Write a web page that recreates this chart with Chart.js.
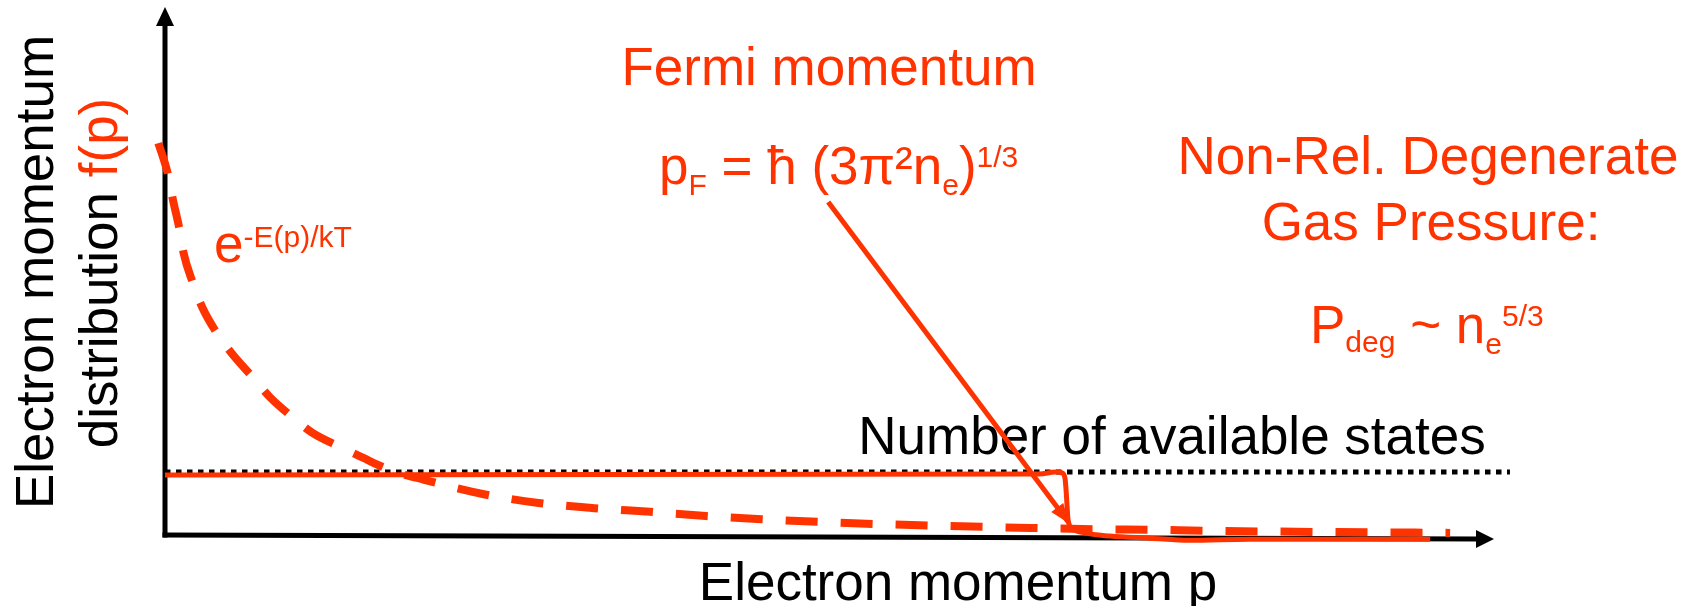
<!DOCTYPE html>
<html><head><meta charset="utf-8">
<script src="https://cdn.jsdelivr.net/npm/chart.js@4/dist/chart.umd.min.js"></script>
<style>html,body{margin:0;padding:0;background:#fff;overflow:hidden}canvas{display:block}</style>
</head><body>
<canvas id="c" width="1697" height="606"></canvas>
<script>
const RED = '#ff3300';
const FONT = '"Liberation Sans", Arial, sans-serif';

// Boltzmann-like distribution e^{-E(p)/kT}  (momentum p, distribution f)
const boltzP = [-0.5, 0.2, 0.6, 1.1, 1.4, 2.1, 2.8, 3.9, 5.0, 6.6, 7.9, 9.6, 11.1, 13.2, 14.8, 16.9, 19.5, 23.9, 28.1, 32.3, 36.5, 40.7, 44.9, 49.1, 53.4, 65.8, 70.1, 74.3, 78.4, 96.7];
const boltzF = [74.5, 68.8, 63.7, 58.0, 53.6, 47.9, 43.3, 38.4, 34.6, 30.0, 26.2, 22.4, 19.4, 16.7, 14.8, 12.4, 10.5, 7.8, 6.1, 5.1, 4.4, 3.6, 3.0, 2.5, 2.1, 1.3, 1.1, 1.0, 0.8, 0.4];

// Degenerate (Fermi) distribution: filled up to p_F, then drops
const degP = [0, 65.8, 67.0, 67.5, 67.72, 67.8, 67.87, 67.95, 68.25, 69.2, 71.1, 74.1, 77.1, 81.6, 95.2];
const degF = [11.4, 11.6, 12.0, 11.8, 10.8, 8.6, 5.7, 2.9, 1.3, 0.4, -0.2, -0.6, -1.0, -0.8, -0.8];

// Number of available states (dotted level)
const statesP = [0, 101.2];
const statesF = [12.0, 12.0];

// Pointer from the p_F label to the Fermi edge
const arrowP = [49.9, 67.95];
const arrowF = [63.3, 2.5];

const toXY = (xs, ys) => xs.map((x, i) => ({x: x, y: ys[i]}));

function rich(ctx, segs, x, y, align) {
  let total = 0;
  segs.forEach(s => { ctx.font = s.s + 'px ' + FONT; s.w = ctx.measureText(s.t).width; total += s.w; });
  let cx = align === 'center' ? x - total / 2 : x;
  ctx.textAlign = 'left';
  ctx.textBaseline = 'alphabetic';
  segs.forEach(s => {
    ctx.font = s.s + 'px ' + FONT;
    ctx.fillStyle = s.c || RED;
    ctx.fillText(s.t, cx, y + (s.dy || 0));
    cx += s.w;
  });
}

const decor = {
  id: 'decor',
  beforeDatasetsDraw(chart) {
    const ctx = chart.ctx;
    const xs = chart.scales.x, ys = chart.scales.y;
    const x0 = xs.getPixelForValue(0), y0 = ys.getPixelForValue(0);
    const xEnd = xs.getPixelForValue(100), yTop = ys.getPixelForValue(100);
    ctx.save();
    // axes
    ctx.strokeStyle = '#000'; ctx.fillStyle = '#000'; ctx.lineWidth = 5; ctx.lineCap = 'butt';
    ctx.beginPath(); ctx.moveTo(x0, y0 + 2.5); ctx.lineTo(x0, yTop + 16); ctx.stroke();
    ctx.beginPath(); ctx.moveTo(x0, yTop - 2); ctx.lineTo(x0 - 9, yTop + 17); ctx.lineTo(x0 + 9, yTop + 17); ctx.closePath(); ctx.fill();
    ctx.beginPath(); ctx.moveTo(x0 - 2.5, y0); ctx.lineTo(xEnd - 16, y0 + 4); ctx.stroke();
    ctx.beginPath(); ctx.moveTo(xEnd, y0 + 4); ctx.lineTo(xEnd - 18, y0 - 5); ctx.lineTo(xEnd - 18, y0 + 13); ctx.closePath(); ctx.fill();

    // texts
    rich(ctx, [{t: 'Fermi momentum', s: 53}], 829, 85, 'center');
    rich(ctx, [{t: 'p', s: 53}, {t: 'F', s: 30, dy: 11}, {t: ' = ħ (3π²n', s: 53}, {t: 'e', s: 30, dy: 11}, {t: ')', s: 53}, {t: '1/3', s: 30, dy: -17}], 659, 184, 'left');
    rich(ctx, [{t: 'Non-Rel. Degenerate', s: 53}], 1428, 174, 'center');
    rich(ctx, [{t: 'Gas Pressure:', s: 53}], 1431, 240, 'center');
    rich(ctx, [{t: 'P', s: 53}, {t: 'deg', s: 30, dy: 9}, {t: ' ~ n', s: 53}, {t: 'e', s: 30, dy: 11}, {t: '5/3', s: 30, dy: -17}], 1310, 343, 'left');
    rich(ctx, [{t: 'e', s: 53}, {t: '-E(p)/kT', s: 30, dy: -15}], 214, 262, 'left');
    rich(ctx, [{t: 'Number of available states', s: 53, c: '#000'}], 1172, 454, 'center');
    rich(ctx, [{t: 'Electron momentum p', s: 53, c: '#000'}], 958, 600, 'center');

    ctx.save(); ctx.translate(53, 272); ctx.rotate(-Math.PI / 2);
    rich(ctx, [{t: 'Electron momentum', s: 53, c: '#000'}], 0, 0, 'center');
    ctx.restore();
    ctx.save(); ctx.translate(117, 273); ctx.rotate(-Math.PI / 2);
    rich(ctx, [{t: 'distribution ', s: 53, c: '#000'}, {t: 'f(p)', s: 53, c: RED}], 0, 0, 'center');
    ctx.restore();
    ctx.restore();
  },
  afterDatasetsDraw(chart) {
    const ctx = chart.ctx;
    const xs = chart.scales.x, ys = chart.scales.y;
    const ax = xs.getPixelForValue(arrowP[0]), ay = ys.getPixelForValue(arrowF[0]);
    const bx = xs.getPixelForValue(arrowP[1]), by = ys.getPixelForValue(arrowF[1]);
    const ang = Math.atan2(by - ay, bx - ax);
    const L = 18, W = 7.5;
    ctx.save();
    ctx.fillStyle = RED;
    ctx.beginPath();
    ctx.moveTo(bx + Math.cos(ang) * 2, by + Math.sin(ang) * 2);
    ctx.lineTo(bx - Math.cos(ang) * L - Math.sin(ang) * W, by - Math.sin(ang) * L + Math.cos(ang) * W);
    ctx.lineTo(bx - Math.cos(ang) * L + Math.sin(ang) * W, by - Math.sin(ang) * L - Math.cos(ang) * W);
    ctx.closePath(); ctx.fill();
    ctx.restore();
  }
};

new Chart(document.getElementById('c'), {
  type: 'scatter',
  data: {
    datasets: [
      {data: toXY(arrowP, arrowF), showLine: true, borderColor: RED, borderWidth: 5, pointRadius: 0, clip: false, order: 1},
      {data: toXY(degP, degF), showLine: true, borderColor: RED, borderWidth: 5, pointRadius: 0, clip: false, cubicInterpolationMode: 'monotone', borderJoinStyle: 'round', order: 2},
      {data: toXY(boltzP, boltzF), showLine: true, borderColor: RED, borderWidth: 8, borderDash: [32, 23], borderCapStyle: 'butt', pointRadius: 0, clip: false, cubicInterpolationMode: 'monotone', order: 3},
      {data: toXY(statesP, statesF), showLine: true, borderColor: '#000', borderWidth: 5, borderDash: [5.5, 5.5], pointRadius: 0, clip: false, order: 4}
    ]
  },
  options: {
    responsive: false,
    devicePixelRatio: 1,
    animation: false,
    events: [],
    layout: {padding: {left: 165, right: 203, top: 9, bottom: 71}},
    scales: {
      x: {type: 'linear', min: 0, max: 100, display: false},
      y: {type: 'linear', min: 0, max: 100, display: false}
    },
    plugins: {legend: {display: false}, tooltip: {enabled: false}}
  },
  plugins: [decor]
});
</script>
</body></html>
